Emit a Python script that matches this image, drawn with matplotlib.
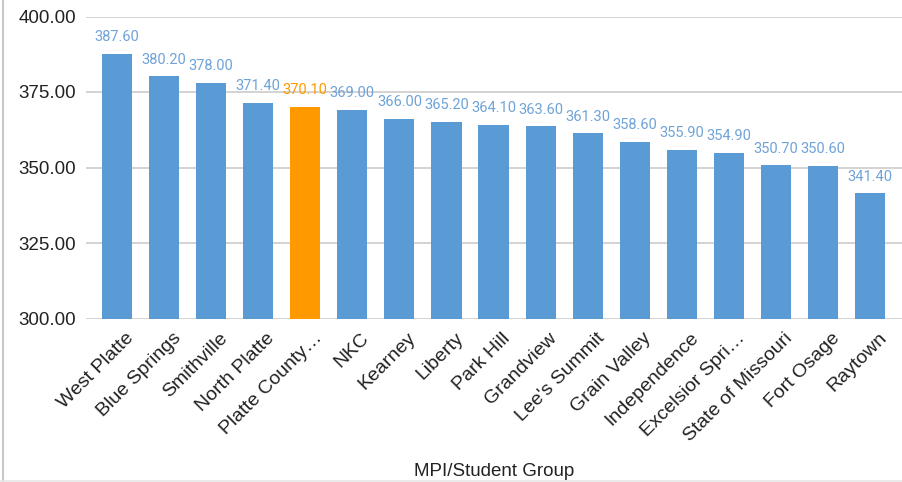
import matplotlib
matplotlib.use('Agg')
import matplotlib.pyplot as plt
import matplotlib.transforms as mtransforms
from matplotlib.lines import Line2D

# Chart data
groups = ["West Platte", "Blue Springs", "Smithville", "North Platte", "Platte County…",
          "NKC", "Kearney", "Liberty", "Park Hill", "Grandview", "Lee's Summit",
          "Grain Valley", "Independence", "Excelsior Spri…", "State of Missouri",
          "Fort Osage", "Raytown"]
scores = [387.6, 380.2, 378.0, 371.4, 370.1, 369.0, 366.0, 365.2, 364.1, 363.6,
          361.3, 358.6, 355.9, 354.9, 350.7, 350.6, 341.4]
highlight = "Platte County…"
y_ticks = [300, 325, 350, 375, 400]

BLUE = '#5b9bd5'
ORANGE = '#ff9900'
LABEL_BLUE = '#6fa3d8'
ARIAL = ['Liberation Sans', 'DejaVu Sans']
ROBOTO = ['Roboto', 'DejaVu Sans']

plt.rcParams['font.family'] = ARIAL

fig = plt.figure(figsize=(9.02, 4.82), dpi=100)
fig.patch.set_facecolor('white')
ax = fig.add_axes([86 / 902, 1 - 318.5 / 482, 1 - 86 / 902, (318.5 - 16.5) / 482])

x = list(range(len(groups)))
colors = [ORANGE if g == highlight else BLUE for g in groups]
ax.bar(x, [s - 300 for s in scores], bottom=300, width=0.64, color=colors, zorder=3)

# value labels above bars
for xi, s, c in zip(x, scores, colors):
    lc = ORANGE if c == ORANGE else LABEL_BLUE
    ax.annotate(f"{s:.2f}", (xi, s), xytext=(0, 7), textcoords='offset points',
                ha='center', va='bottom', fontsize=10.5, color=lc, family=ROBOTO)

ax.set_ylim(300, 400)
ax.set_xlim(-0.66, len(groups) - 1 + 0.68)
ax.set_yticks(y_ticks)
ax.set_yticklabels([f"{v:.2f}" for v in y_ticks], fontsize=13.5, color='#222222')
ax.yaxis.grid(True, color='#cccccc', linewidth=1.2, zorder=0)
ax.tick_params(axis='y', length=0, pad=7)
ax.tick_params(axis='x', length=0, pad=8)
for sp in ax.spines.values():
    sp.set_visible(False)

ax.set_xticks(x)
ax.set_xticklabels(groups, rotation=45, ha='right', va='top', rotation_mode='anchor',
                   fontsize=14, color='#222222')
shift = mtransforms.ScaledTranslation(8 / 100, 0, fig.dpi_scale_trans)
for lbl in ax.get_xticklabels():
    lbl.set_transform(lbl.get_transform() + shift)

fig.text(494 / 902, 1 - 472 / 482, "MPI/Student Group", ha='center', va='center',
         fontsize=13.5, color='#222222')

# frame edges of the screenshot
fig.add_artist(Line2D([2.5 / 902, 2.5 / 902], [0, 1], color='#c8c8c8', linewidth=1.5,
                      transform=fig.transFigure))
fig.add_artist(Line2D([0, 1], [1.5 / 482, 1.5 / 482], color='#e6e6e6', linewidth=1.2,
                      transform=fig.transFigure))

fig.savefig('out.png', dpi=100, facecolor='white')
